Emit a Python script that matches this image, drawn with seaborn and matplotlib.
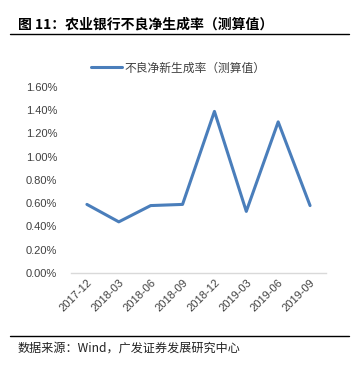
import matplotlib
matplotlib.use("Agg")
import matplotlib.pyplot as plt
import seaborn as sns
import pandas as pd
from matplotlib.lines import Line2D

categories = ["2017-12", "2018-03", "2018-06", "2018-09", "2018-12", "2019-03", "2019-06", "2019-09"]
values = [0.59, 0.44, 0.58, 0.59, 1.39, 0.53, 1.30, 0.58]
yticks = [0.0, 0.2, 0.4, 0.6, 0.8, 1.0, 1.2, 1.4, 1.6]
series_name = "不良净新生成率（测算值）"

sns.set_theme(style="white")
plt.rcParams['font.family'] = ['Noto Sans CJK SC', 'DejaVu Sans']

df = pd.DataFrame({"period": categories, "value": values})
df["x"] = range(len(categories))

fig = plt.figure(figsize=(3.56, 3.66), dpi=100)
ax = fig.add_axes([0.1994, 0.2541, 0.7163, 0.5082])
color = "#4a7ebb"
sns.lineplot(data=df, x="x", y="value", ax=ax, color=color, linewidth=2.2, legend=False)
ax.set_xlim(-0.5, len(categories) - 0.5)
ax.set_ylim(0, 1.6)
ax.set_yticks(yticks)
ax.set_yticklabels([f"{v:.2f}%" for v in yticks], fontsize=8, color="#404040", family=['Liberation Sans', 'DejaVu Sans'])
ax.set_xticks(range(len(categories)))
ax.set_xticklabels(categories, rotation=45, ha="right", rotation_mode="anchor", fontsize=8, color="#404040", family=['Liberation Sans', 'DejaVu Sans'])
ax.tick_params(axis="both", length=0, pad=3)
ax.tick_params(axis="y", pad=10)
ax.set_xlabel("")
ax.set_ylabel("")
for s in ["top", "right", "left"]:
    ax.spines[s].set_visible(False)
ax.spines["bottom"].set_color("#d9d9d9")
ax.spines["bottom"].set_linewidth(1)

# title
fig.text(18/356, 1 - 25/366, "图 11：农业银行不良净生成率（测算值）", fontsize=10, fontweight="bold", va="center", ha="left", color="black")
fig.add_artist(Line2D([10/356, 349/356], [1 - 34/366, 1 - 34/366], color="black", linewidth=1))

# legend
handle = Line2D([0], [0], color=color, linewidth=2.2)
fig.legend([handle], [series_name], loc="center", bbox_to_anchor=(178/356, 1 - 68/366), frameon=False,
           fontsize=8.5, handlelength=2.6, handletextpad=0.2, labelcolor="#404040")

# source
fig.add_artist(Line2D([10/356, 349/356], [1 - 336/366, 1 - 336/366], color="black", linewidth=1))
fig.text(18/356, 1 - 348/366, "数据来源：Wind，广发证券发展研究中心", fontsize=8.7, va="center", ha="left", color="#222222")

fig.savefig("out.png", dpi=100)
